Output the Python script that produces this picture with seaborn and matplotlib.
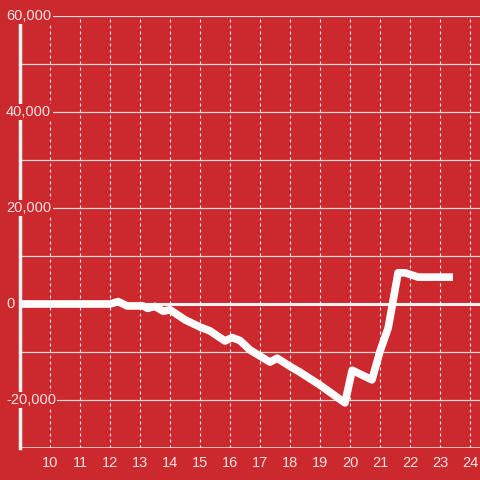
import matplotlib
matplotlib.use("Agg")
import matplotlib.pyplot as plt
import matplotlib.transforms as mtransforms
import seaborn as sns
import pandas as pd

# hour of day vs running total
hours = [9.0, 12.0, 12.27, 12.57, 13.1, 13.25, 13.5, 13.77, 14.0, 14.5, 15.0,
         15.33, 15.83, 16.07, 16.33, 16.67, 17.33, 17.57, 18.0, 18.33, 19.0,
         19.83, 20.07, 20.73, 21.0, 21.27, 21.6, 21.83, 22.27, 23.43]
values = [0, 0, 500, -400, -400, -900, -500, -1500, -1200, -3300, -4800,
          -5600, -7700, -7000, -7600, -9600, -12100, -11300, -13000, -14200, -16900,
          -20600, -13800, -15800, -9800, -5000, 6500, 6500, 5600, 5600]

x_ticks = list(range(10, 25))
y_labels = [60000, 40000, 20000, 0, -20000]
y_grid = list(range(-20000, 60001, 10000))

bg = "#cc292e"
txt = "#f6e2e2"
grid = "#d8d8d8"

sns.set_style("white", {"axes.facecolor": bg, "figure.facecolor": bg})
plt.rcParams["font.family"] = ["Liberation Sans", "DejaVu Sans"]

fig = plt.figure(figsize=(4.8, 4.8), dpi=100)
ax = fig.add_axes([20 / 480, 32 / 480, 460 / 480, 432 / 480])

df = pd.DataFrame({"hour": hours, "value": values})

# grid
for v in y_grid:
    if v != 0:
        ax.axhline(v, color=grid, lw=0.9, zorder=1)
ax.axhline(-30000, color=grid, lw=1.2, zorder=1)
for h in x_ticks:
    ax.axvline(h, color="#eeeeee", lw=0.8, dashes=(2.7, 2.7), zorder=1)
ax.axhline(0, color="#f2f2f2", lw=2.2, zorder=2)

sns.lineplot(data=df, x="hour", y="value", ax=ax, color="white", lw=5.5,
             zorder=3, solid_capstyle="butt")

ax.set_xlim(9, 24.33)
ax.set_ylim(-30000, 60000)

for s in ["top", "right", "bottom"]:
    ax.spines[s].set_visible(False)
ax.spines["left"].set_color("#f2f2f2")
ax.spines["left"].set_linewidth(2.5)
ax.spines["left"].set_zorder(4)

ax.set_xticks(x_ticks)
ax.set_xticklabels([str(h) for h in x_ticks])
ax.tick_params(axis="x", length=0, pad=6, labelsize=10.5, labelcolor=txt)
ax.set_yticks([])
ax.set_xlabel("")
ax.set_ylabel("")

trans = mtransforms.blended_transform_factory(fig.transFigure, ax.transData)
for v in y_labels:
    ax.text(6 / 480, v, f"{v:,}", transform=trans, ha="left", va="center",
            fontsize=10.5, color=txt, zorder=10, clip_on=False,
            bbox=dict(facecolor=bg, edgecolor="none", pad=1.0))

fig.savefig("out.png", dpi=100, facecolor=bg)
